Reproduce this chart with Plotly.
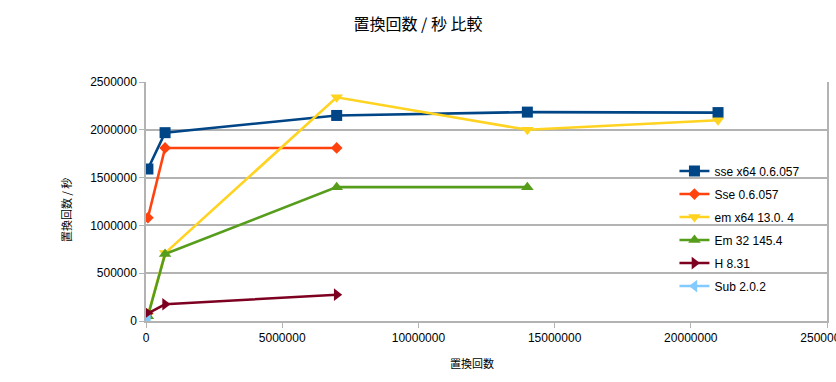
import plotly.graph_objects as go

x_vals = [70000, 700000, 7000000, 14000000, 21000000]

series_names = ["sse x64 0.6.057", "Sse 0.6.057", "em x64 13.0. 4", "Em 32 145.4", "H 8.31", "Sub 2.0.2"]
sse_x64 = [1590000, 1970000, 2150000, 2185000, 2180000]
sse = [1080000, 1810000, 1810000]
em_x64 = [60000, 710000, 2340000, 2000000, 2100000]
em32 = [50000, 700000, 1400000, 1400000]
h = [80000, 175000, 275000]
sub = [5000]

y_series = [sse_x64, sse, em_x64, em32, h, sub]
colors = ["#004586", "#ff420e", "#ffd320", "#579d1c", "#7e0021", "#83caff"]
symbols = ["square", "diamond", "triangle-down", "triangle-up", "triangle-right", "triangle-left"]
sizes = [11, 9, 11, 11, 11, 11]

x_ticks = [0, 5000000, 10000000, 15000000, 20000000, 25000000]
y_ticks = [0, 500000, 1000000, 1500000, 2000000, 2500000]

fig = go.Figure()
for i, (name, ys) in enumerate(zip(series_names, y_series)):
    fig.add_trace(go.Scatter(
        x=x_vals[:len(ys)], y=ys, name=name, mode="lines+markers",
        line=dict(color=colors[i], width=2.6),
        marker=dict(symbol=symbols[i], size=sizes[i], color=colors[i]),
        legendgroup="g%d" % i,
    ))

font_lat = "Liberation Sans, Arial, sans-serif"
cjk = "Noto Sans CJK JP"
fig.update_layout(
    width=836, height=382,
    margin=dict(l=146, r=9, t=82, b=61),
    paper_bgcolor="white", plot_bgcolor="white",
    title=dict(text="置換回数 / 秒 比較", x=0.5, xanchor="center", y=0.935, yanchor="middle",
               font=dict(family=cjk, size=16, color="#000")),
    font=dict(family=font_lat, size=12, color="#000"),
    legend=dict(x=0.776, y=0.688, xanchor="left", yanchor="top", bgcolor="rgba(0,0,0,0)",
                font=dict(family=font_lat, size=12), tracegroupgap=4, traceorder="grouped",
                itemwidth=30),
    showlegend=True,
    annotations=[
        dict(text="置換回数 / 秒", xref="paper", yref="paper", x=-0.1175, y=0.464,
             textangle=-90, showarrow=False, xanchor="center", yanchor="middle",
             font=dict(family=cjk, size=11, color="#000")),
        dict(text="置換回数", xref="paper", yref="paper", x=0.479, y=-0.176,
             showarrow=False, xanchor="center", yanchor="middle",
             font=dict(family=cjk, size=11, color="#000")),
    ],
)
fig.update_xaxes(range=[0, 25000000], tickvals=x_ticks, ticktext=[str(v) for v in x_ticks],
                 showgrid=False, showline=True, linecolor="#b3b3b3", linewidth=1.5,
                 ticks="outside", ticklen=5, tickcolor="#b3b3b3", zeroline=False, mirror=False,
                 automargin=False, ticklabeloverflow="allow")
fig.update_yaxes(range=[0, 2500000], tickvals=y_ticks, ticktext=[str(v) for v in y_ticks],
                 showgrid=True, gridcolor="#b3b3b3", gridwidth=1.5, showline=True, linecolor="#b3b3b3",
                 linewidth=1.5, ticks="outside", ticklen=5, tickcolor="#b3b3b3", zeroline=False,
                 mirror=True, automargin=False)
fig.write_html("out.html", config={"displayModeBar": False},
               post_script="document.body.style.margin='0';document.body.style.overflow='hidden';")
